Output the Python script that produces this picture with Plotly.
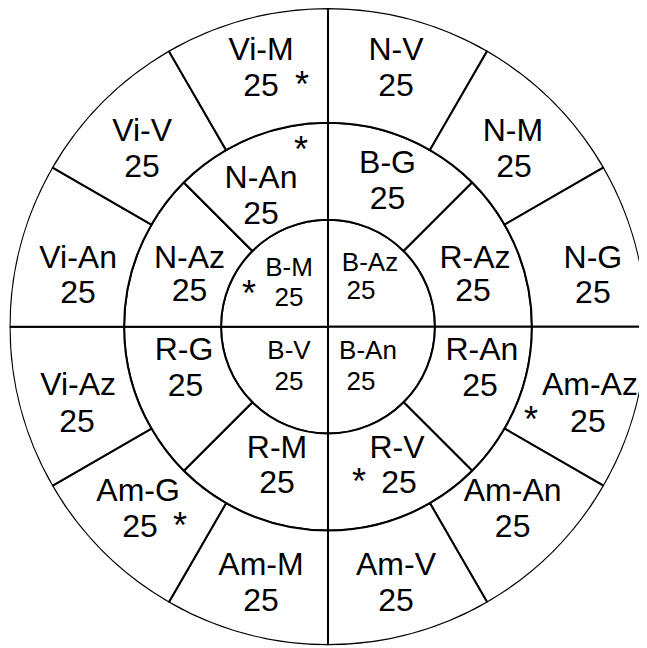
import math
import plotly.graph_objects as go

FONT = "Liberation Sans, Arial, sans-serif"

# Sectors listed clockwise starting at 12 o'clock
inner_labels = ["B-Az", "B-An", "B-V", "B-M"]
inner_values = [25, 25, 25, 25]
middle_labels = ["B-G", "R-Az", "R-An", "R-V", "R-M", "R-G", "N-Az", "N-An"]
middle_values = [25, 25, 25, 25, 25, 25, 25, 25]
outer_labels = ["N-V", "N-M", "N-G", "Am-Az", "Am-An", "Am-V",
                "Am-M", "Am-G", "Vi-Az", "Vi-An", "Vi-V", "Vi-M"]
outer_values = [25, 25, 25, 25, 25, 25, 25, 25, 25, 25, 25, 25]
starred = ["Vi-M", "N-An", "B-M", "Am-Az", "R-V", "Am-G"]

# ---- layout geometry (pixel units = radial units) ----
RINGS = [(0, 107), (107, 204), (204, 318.5)]
R_RANGE = 318.75
PITCH = 36          # distance between name line and number line

# text placements (dx, dy from centre in px, screen y downward)
name_override = {
    "B-Az": (42, -62.5), "B-An": (40, 25.5), "B-V": (-39, 25.5), "B-M": (-39, -57.5),
    "N-An": (-67, -146.5), "N-Az": (-138.5, -66.5), "R-Az": (147, -66.5),
    "R-G": (-144, 25.5), "R-An": (154, 25.5), "R-M": (-51, 123), "R-V": (69, 123),
    "Vi-M": (-67, -274.5), "N-V": (68, -274.5),
    "Vi-V": (-186, -194), "N-M": (185, -194),
    "Vi-An": (-250, -66.5), "N-G": (265, -66.5),
    "Vi-Az": (-250, 60.5), "Am-Az": (262, 60.5),
    "Am-G": (-190, 166), "Am-M": (-67, 240), "Am-V": (68, 240),
}
num_override = {
    "B-Az": (33, -34.5), "B-An": (33, 56.5), "B-V": (-39, 56.5), "B-M": (-39, -27),
    "N-An": (-67, -110.5), "N-Az": (-138.5, -33.5), "R-Az": (145, -33.5),
    "R-G": (-142.5, 61.5), "R-An": (152, 61.5), "R-M": (-51, 158.5), "R-V": (71, 158.5),
    "Vi-M": (-67, -238.5), "N-V": (68, -238.5),
    "Vi-V": (-186, -158), "N-M": (186, -158),
    "Vi-An": (-250, -31.5), "N-G": (265, -31.5),
    "Vi-Az": (-251, 97.5), "Am-Az": (260, 97.5),
    "Am-G": (-188, 202.5), "Am-M": (-67, 276), "Am-V": (68, 276),
}
star_pos = {
    "Vi-M": (-26, -238.5), "N-An": (-27, -173.5), "B-M": (-79, -29.5),
    "Am-Az": (203, 96.5), "R-V": (31, 158.5), "Am-G": (-148, 202.5),
}


def to_polar(dx, dy):
    r = math.hypot(dx, dy)
    th = math.degrees(math.atan2(dx, -dy)) % 360
    return r, th


fig = go.Figure()

ring_data = [(inner_labels, inner_values), (middle_labels, middle_values),
             (outer_labels, outer_values)]

name_r, name_t, name_s = [], [], []
num_r, num_t, num_s = [], [], []
in_name_r, in_name_t, in_name_s = [], [], []
in_num_r, in_num_t, in_num_s = [], [], []

for (labels, values), (r0, r1) in zip(ring_data, RINGS):
    n = len(labels)
    width = 360 / n
    thetas = [width * (i + 0.5) for i in range(n)]
    fig.add_trace(go.Barpolar(
        r=[r1 - r0] * n, base=[r0] * n, theta=thetas, width=[width] * n,
        marker=dict(color="white", line=dict(color="black", width=2)),
        hoverinfo="skip", showlegend=False,
    ))
    rm = (r0 + r1) / 2
    for lab, val, th in zip(labels, values, thetas):
        cx = rm * math.sin(math.radians(th))
        cy = -rm * math.cos(math.radians(th))
        nx, ny = name_override.get(lab, (cx, cy - PITCH / 2))
        vx, vy = num_override.get(lab, (cx, cy + PITCH / 2))
        a = to_polar(nx, ny)
        b = to_polar(vx, vy)
        if labels is inner_labels:
            in_name_r.append(a[0]); in_name_t.append(a[1]); in_name_s.append(lab)
            in_num_r.append(b[0]); in_num_t.append(b[1]); in_num_s.append(str(val))
        else:
            name_r.append(a[0]); name_t.append(a[1]); name_s.append(lab)
            num_r.append(b[0]); num_t.append(b[1]); num_s.append(str(val))


def add_text(rs, ts, ss, size):
    fig.add_trace(go.Scatterpolar(
        r=rs, theta=ts, text=ss, mode="text", textposition="middle center",
        textfont=dict(family=FONT, size=size, color="black"),
        hoverinfo="skip", showlegend=False,
    ))


add_text(name_r, name_t, name_s, 32)
add_text(num_r, num_t, num_s, 32)
add_text(in_name_r, in_name_t, in_name_s, 26)
add_text(in_num_r, in_num_t, in_num_s, 26)

sr, st = [], []
for lab in starred:
    r, t = to_polar(*star_pos[lab])
    sr.append(r); st.append(t)
add_text(sr, st, ["*"] * len(sr), 36)

# page has an 8px body margin, so the figure is sized to the remaining area
W, H = 639, 640
cx_px, cy_px = 320.0, 318.5
fig.update_layout(
    width=W, height=H,
    margin=dict(l=0, r=0, t=0, b=0),
    paper_bgcolor="white",
    showlegend=False,
    polar=dict(
        domain=dict(x=[max(0.0, (cx_px - R_RANGE) / W), min(1.0, (cx_px + R_RANGE) / W)],
                    y=[max(0.0, (H - cy_px - R_RANGE) / H), min(1.0, (H - cy_px + R_RANGE) / H)]),
        bgcolor="white",
        bargap=0,
        radialaxis=dict(range=[0, R_RANGE], visible=False, showgrid=False,
                        showline=False, showticklabels=False, ticks=""),
        angularaxis=dict(rotation=90, direction="clockwise", visible=False,
                         showgrid=False, showline=False, showticklabels=False,
                         ticks=""),
    ),
)

fig.write_html("out.html")
